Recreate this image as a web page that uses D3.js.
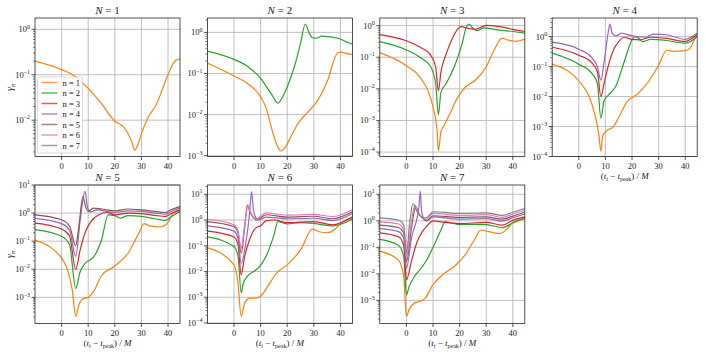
<!DOCTYPE html>
<html>
<head>
<meta charset="utf-8">
<script src="https://cdn.jsdelivr.net/npm/d3@7"></script>
<style>
body { margin: 0; background: #fff; }
svg text { font-family: "Liberation Serif", "Times New Roman", serif; }
</style>
</head>
<body>
<svg id="chart"></svg>
<script>
// line colours for n = 1..7 (matplotlib C1..C7)
var colors = ["#ff7f0e", "#2ca02c", "#d62728", "#9467bd", "#8c564b", "#e377c2", "#7f7f7f"]
var xTicks = [0, 10, 20, 30, 40]
var xDomain = [-10, 44.5]
// log10 range of each panel's y axis
var yDomains = [[-2.8, 0.25], [-3.02, 0.35], [-4.14, 0.24], [-4.0, 0.62],
                [-3.93, 1.0], [-4.02, 1.36], [-3.87, 1.35]]

// [t_i - t_peak, gamma_n], one list per n
var N1 = [
  [[-10,0.20],[0,0.13],[5,0.093],[10,0.050],[15,0.023],[20,0.0095],[23,0.0074],[25,0.0050],[26.5,0.0032],[27.5,0.0022],[29,0.0033],[30,0.0050],[33,0.013],[35,0.019],[40,0.10],[42,0.18],[43,0.21],[44.5,0.22]]
]
var N2 = [
  [[-10,0.18],[0,0.087],[5,0.058],[10,0.027],[12,0.015],[14.5,0.0038],[16.5,0.0016],[17.5,0.0013],[19,0.0015],[21,0.0026],[24,0.0060],[28,0.012],[31,0.020],[35,0.063],[39,0.32],[40,0.33],[43,0.30],[44.5,0.29]],
  [[-10,0.35],[0,0.22],[5,0.15],[10,0.076],[14,0.032],[16.5,0.019],[18,0.025],[20,0.047],[23,0.17],[25,0.54],[26.8,1.6],[28,1.05],[29.5,0.74],[31,0.72],[33,0.81],[36,0.78],[40,0.69],[43,0.56],[44.5,0.52]]
]
var N3 = [
  [[-10,0.14],[0,0.054],[5,0.024],[8,0.0091],[10,0.0027],[11.5,0.00049],[12,0.00011],[13,0.00044],[14,0.00065],[16,0.0014],[19,0.0049],[22,0.011],[26,0.019],[30,0.050],[33,0.17],[36,0.40],[38,0.35],[41,0.32],[44.5,0.37]],
  [[-10,0.31],[0,0.17],[5,0.10],[9,0.052],[11,0.015],[12,0.0015],[13,0.0079],[15,0.015],[18,0.050],[21,0.28],[22.5,0.89],[23.5,1.12],[25,0.83],[26.5,0.69],[29,0.85],[35,0.72],[40,0.65],[44.5,0.58]],
  [[-10,0.52],[0,0.33],[5,0.21],[9,0.12],[11,0.050],[12,0.0087],[13,0.035],[15,0.13],[17,0.35],[19,0.72],[20.5,0.93],[23,0.83],[26,0.76],[30,1.02],[35,0.93],[40,0.76],[44.5,0.65]]
]
var N4 = [
  [[-10,0.12],[0,0.033],[4,0.0095],[6,0.0026],[7.5,0.00056],[8.3,0.00015],[9,0.00049],[10.5,0.00072],[13,0.0010],[15,0.0020],[18,0.0065],[22,0.012],[26,0.030],[30,0.11],[33,0.35],[36,0.32],[40,0.34],[42,0.43],[43.5,0.81],[44.5,1.05]],
  [[-10,0.28],[0,0.12],[5,0.058],[7,0.027],[8.3,0.0019],[9.5,0.0072],[11,0.011],[14,0.023],[17,0.14],[20,0.78],[21,1.0],[22.5,0.87],[24,0.68],[27,0.81],[33,0.74],[40,0.60],[42,0.69],[44.5,1.05]],
  [[-10,0.44],[0,0.24],[5,0.13],[7,0.066],[8.3,0.010],[9.5,0.027],[11,0.10],[13,0.35],[15,0.68],[17,0.95],[20,0.81],[23,0.78],[27,0.95],[33,0.87],[40,0.68],[42,0.81],[44.5,1.2]],
  [[-10,0.65],[0,0.38],[5,0.19],[7,0.098],[8.3,0.035],[9.5,0.14],[11,1.3],[11.7,2.6],[12.5,1.3],[14,1.05],[16,1.3],[20,1.05],[25,0.95],[28,1.2],[33,1.15],[40,0.81],[42,0.93],[44.5,1.3]]
]
var N5 = [
  [[-10,0.11],[0,0.025],[2,0.011],[4,0.0019],[5.3,0.00021],[6.5,0.00055],[8,0.00089],[10,0.0010],[12,0.0016],[15,0.0059],[20,0.013],[25,0.038],[29,0.19],[31,0.42],[33,0.35],[37,0.32],[40,0.47],[42,1.0],[44.5,1.2]],
  [[-10,0.26],[0,0.15],[3,0.074],[5.3,0.0021],[7,0.0083],[9,0.017],[12,0.027],[15,0.11],[17.5,0.87],[20,0.81],[22,0.66],[25,0.81],[30,0.76],[35,0.63],[39,0.55],[41,0.72],[44.5,1.15]],
  [[-10,0.44],[0,0.27],[3,0.15],[5.3,0.010],[7,0.050],[9,0.22],[11,0.50],[14,0.87],[17,1.05],[20,0.87],[25,1.0],[30,0.95],[35,0.83],[39,0.76],[41,0.95],[44.5,1.3]],
  [[-10,0.65],[0,0.42],[3,0.24],[5.3,0.029],[7,0.58],[8.8,5.9],[9.8,1.5],[11,1.1],[13,1.3],[20,1.05],[25,1.2],[30,1.15],[35,1.0],[39,0.91],[41,1.12],[44.5,1.5]],
  [[-10,0.87],[0,0.58],[3,0.34],[5.3,0.069],[6.5,0.34],[8,3.9],[9,1.7],[10,1.15],[12,1.5],[15,1.4],[20,1.2],[25,1.4],[30,1.3],[35,1.15],[39,1.05],[41,1.3],[44.5,1.7]]
]
var N6 = [
  [[-10,0.085],[0,0.018],[1.5,0.0035],[2.7,0.00018],[4,0.00059],[6,0.00093],[8,0.00093],[10,0.0011],[13,0.0030],[16,0.0087],[20,0.018],[25,0.069],[29.5,0.44],[32,0.35],[35,0.32],[38,0.44],[40,0.74],[44.5,1.15]],
  [[-10,0.22],[0,0.093],[1.5,0.040],[2.7,0.0015],[3.5,0.0035],[5,0.0065],[8,0.011],[9.5,0.015],[12,0.038],[15,0.26],[16.5,0.87],[20,0.71],[25,0.79],[30,0.74],[37,0.59],[44.5,1.07]],
  [[-10,0.37],[0,0.22],[1.5,0.11],[2.7,0.0074],[4,0.038],[6,0.19],[7.5,0.41],[9,0.55],[10,0.59],[12,0.93],[15,1.0],[20,0.79],[30,0.87],[37,0.65],[44.5,1.35]],
  [[-10,0.59],[0,0.37],[1.5,0.19],[2.7,0.021],[4.5,0.14],[5.8,1.6],[6.6,12.6],[7.3,2.5],[8,1.35],[9,1.0],[10.5,1.12],[12,1.3],[20,1.12],[30,1.17],[37,0.95],[44.5,1.8]],
  [[-10,0.87],[0,0.55],[1.5,0.32],[2.7,0.051],[4,0.50],[5,3.8],[6,2.1],[7,1.35],[8.5,1.0],[10,1.2],[12,1.6],[20,1.3],[30,1.4],[37,1.12],[44.5,2.1]],
  [[-10,1.07],[0,0.65],[1.5,0.38],[2.7,0.079],[4,0.63],[5.3,3.8],[6,2.2],[7,1.45],[8.5,1.07],[10,1.4],[12,1.9],[20,1.55],[30,1.65],[37,1.35],[44.5,2.5]]
]
var N7 = [
  [[-10,0.072],[-3,0.033],[-1,0.0079],[0,0.00025],[1,0.00045],[3,0.00079],[5,0.00091],[7,0.0012],[10,0.0039],[14,0.010],[18,0.019],[22,0.051],[25.5,0.19],[28,0.45],[31,0.39],[35,0.33],[38,0.51],[40,0.91],[44.5,1.23]],
  [[-10,0.20],[-3,0.12],[-1,0.045],[0,0.0016],[1,0.0033],[3,0.0079],[6,0.019],[8,0.039],[10,0.10],[13,0.45],[14.5,0.91],[17,0.83],[20,0.72],[25,0.74],[30,0.72],[36,0.56],[40,0.83],[44.5,1.23]],
  [[-10,0.35],[-3,0.25],[-1,0.12],[0,0.0059],[2,0.033],[4,0.16],[6,0.39],[8,0.69],[10,1.0],[13,0.91],[20,0.79],[30,0.87],[36,0.69],[40,1.05],[44.5,1.4]],
  [[-10,0.51],[-3,0.39],[-1,0.22],[0,0.016],[2,0.25],[4,1.26],[4.7,3.2],[5.2,13],[5.7,2.5],[6.3,1.4],[7,1.12],[8,1.05],[10,1.4],[20,1.15],[30,1.2],[36,0.98],[40,1.3],[44.5,1.8]],
  [[-10,0.69],[-3,0.56],[-1,0.34],[0,0.029],[2,0.63],[3.5,3.4],[4.5,2.0],[6,1.26],[7.5,1.0],[10,1.55],[20,1.35],[30,1.4],[36,1.15],[40,1.5],[44.5,2.1]],
  [[-10,0.91],[-3,0.76],[-1,0.45],[0,0.039],[1.8,0.79],[3.2,3.9],[4.3,2.2],[6,1.3],[7.5,1.12],[10,1.9],[20,1.6],[30,1.7],[36,1.35],[40,1.8],[44.5,2.5]],
  [[-10,1.3],[-3,1.07],[-1,0.69],[0,0.059],[1.3,1.0],[2.5,4.5],[3.5,2.8],[5,1.6],[7,1.26],[8.5,1.6],[10,2.2],[20,1.9],[30,2.0],[36,1.6],[40,2.1],[44.5,2.9]]
]
var panels = [N1, N2, N3, N4, N5, N6, N7]

var width = 706,
    height = 353
var colLeft = [35, 207.4, 379.8, 552.2]
var rowTop = [18, 185]
var pw = 145,
    ph = 138.5

var svg = d3.select("#chart")
    .attr("width", width)
    .attr("height", height)
    .attr("fill", "#222")

function supLabel(sel, base, sup, size) {
    sel.append("tspan").text(base).attr("font-size", size)
    sel.append("tspan").text(sup).attr("font-size", size * 0.7).attr("dy", -size * 0.45)
}

panels.forEach(function (series, i) {
    var row = i < 4 ? 0 : 1
    var left = colLeft[i % 4],
        top = rowTop[row]
    var g = svg.append("g").attr("transform", "translate(" + left + "," + top + ")")

    var x = d3.scaleLinear().domain(xDomain).range([0, pw])
    var yd = yDomains[i]
    var y = d3.scaleLog().domain([Math.pow(10, yd[0]), Math.pow(10, yd[1])]).range([ph, 0])
    var majors = d3.range(Math.ceil(yd[0]), Math.floor(yd[1]) + 1)

    // grid
    g.append("g").selectAll("line").data(xTicks).enter().append("line")
        .attr("x1", function (d) { return x(d) }).attr("x2", function (d) { return x(d) })
        .attr("y1", 0).attr("y2", ph)
        .attr("stroke", "#b0b0b0").attr("stroke-width", 0.8)
    g.append("g").selectAll("line").data(majors).enter().append("line")
        .attr("y1", function (d) { return y(Math.pow(10, d)) }).attr("y2", function (d) { return y(Math.pow(10, d)) })
        .attr("x1", 0).attr("x2", pw)
        .attr("stroke", "#b0b0b0").attr("stroke-width", 0.8)

    // curves
    var clipId = "clip" + i
    g.append("clipPath").attr("id", clipId).append("rect").attr("width", pw).attr("height", ph)
    var line = d3.line()
        .x(function (d) { return x(d[0]) })
        .y(function (d) { return y(d[1]) })
        .curve(d3.curveMonotoneX)
    g.append("g").attr("clip-path", "url(#" + clipId + ")")
        .selectAll("path").data(series).enter().append("path")
        .attr("d", line)
        .attr("fill", "none")
        .attr("stroke", function (d, k) { return colors[k] })
        .attr("stroke-width", 1.2)

    // spines
    g.append("rect").attr("width", pw).attr("height", ph)
        .attr("fill", "none").attr("stroke", "#262626").attr("stroke-width", 0.8)

    // x ticks
    var xt = g.append("g").selectAll("g").data(xTicks).enter().append("g")
        .attr("transform", function (d) { return "translate(" + x(d) + "," + ph + ")" })
    xt.append("line").attr("y2", 3.5).attr("stroke", "#262626").attr("stroke-width", 0.8)
    xt.append("text").attr("y", 12).attr("text-anchor", "middle").attr("font-size", 8.5)
        .text(function (d) { return d })

    // y minor ticks
    var minors = []
    d3.range(Math.floor(yd[0]), Math.ceil(yd[1])).forEach(function (e) {
        for (var m = 2; m < 10; m++) {
            var v = m * Math.pow(10, e)
            if (Math.log10(v) >= yd[0] && Math.log10(v) <= yd[1]) minors.push(v)
        }
    })
    g.append("g").selectAll("line").data(minors).enter().append("line")
        .attr("x1", -2).attr("x2", 0)
        .attr("y1", function (d) { return y(d) }).attr("y2", function (d) { return y(d) })
        .attr("stroke", "#262626").attr("stroke-width", 0.6)

    // y major ticks
    var yt = g.append("g").selectAll("g").data(majors).enter().append("g")
        .attr("transform", function (d) { return "translate(0," + y(Math.pow(10, d)) + ")" })
    yt.append("line").attr("x1", -3.5).attr("stroke", "#262626").attr("stroke-width", 0.8)
    yt.append("text").attr("x", -5).attr("y", 3).attr("text-anchor", "end")
        .each(function (d) {
            supLabel(d3.select(this), "10", d < 0 ? "\u2212" + (-d) : String(d), 8.5)
        })

    // title
    var title = g.append("text").attr("x", pw / 2).attr("y", -4).attr("text-anchor", "middle").attr("font-size", 11)
    title.append("tspan").attr("font-style", "italic").text("N")
    title.append("tspan").text(" = " + (i + 1))

    // x label
    if (i >= 3) {
        var xl = g.append("text").attr("x", pw / 2).attr("y", ph + 22).attr("text-anchor", "middle").attr("font-size", 9)
        xl.append("tspan").text("(")
        xl.append("tspan").attr("font-style", "italic").text("t")
        xl.append("tspan").attr("font-size", 6).attr("dy", 2).attr("font-style", "italic").text("i")
        xl.append("tspan").attr("dy", -2).text(" \u2212 ")
        xl.append("tspan").attr("font-style", "italic").text("t")
        xl.append("tspan").attr("font-size", 6).attr("dy", 2).text("peak")
        xl.append("tspan").attr("dy", -2).text(") / ")
        xl.append("tspan").attr("font-style", "italic").text("M")
    }

    // y label
    if (i % 4 === 0) {
        var yl = g.append("text").attr("transform", "translate(-22," + ph / 2 + ") rotate(-90)")
            .attr("text-anchor", "middle").attr("font-size", 10)
        yl.append("tspan").attr("font-style", "italic").text("\u03b3")
        yl.append("tspan").attr("font-size", 7).attr("dy", 2).attr("font-style", "italic").text("n")
    }

    // legend in first panel
    if (i === 0) {
        var lg = g.append("g").attr("transform", "translate(2.5,59)")
        lg.append("rect").attr("width", 45).attr("height", 76).attr("rx", 2)
            .attr("fill", "#fff").attr("fill-opacity", 0.8)
            .attr("stroke", "#d0d0d0").attr("stroke-width", 0.8)
        var items = lg.selectAll("g").data(colors).enter().append("g")
            .attr("transform", function (d, k) { return "translate(0," + (5.5 + k * 10.5) + ")" })
        items.append("line").attr("x1", 4).attr("x2", 20)
            .attr("stroke", function (d) { return d }).attr("stroke-width", 1.5).attr("stroke-opacity", 0.75)
        items.append("text").attr("x", 25).attr("y", 3).attr("font-size", 8.5)
            .text(function (d, k) { return "n = " + (k + 1) })
    }
})
</script>
</body>
</html>
